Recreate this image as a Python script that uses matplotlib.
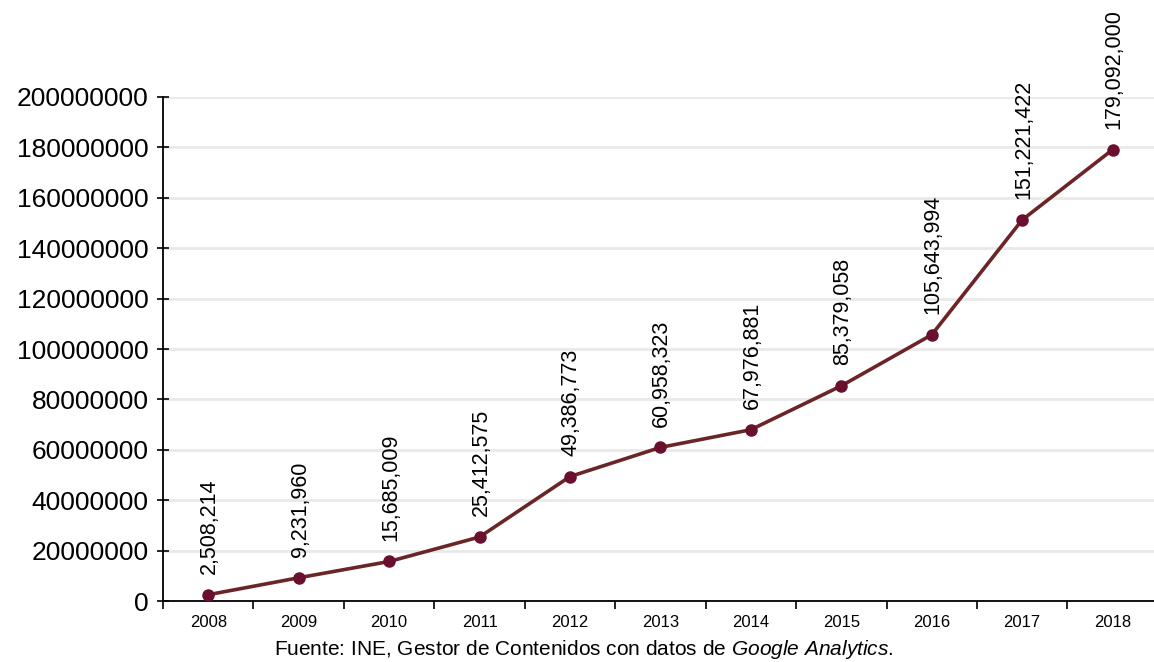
import matplotlib.pyplot as plt
import numpy as np

plt.rcParams['font.family'] = ['Liberation Sans', 'DejaVu Sans']
plt.rcParams['mathtext.fontset'] = 'custom'
plt.rcParams['mathtext.rm'] = 'Liberation Sans'
plt.rcParams['mathtext.it'] = 'Liberation Sans:italic'

# data
years = ['2008', '2009', '2010', '2011', '2012', '2013', '2014', '2015', '2016', '2017', '2018']
visits = [2508214, 9231960, 15685009, 25412575, 49386773, 60958323,
          67976881, 85379058, 105643994, 151221422, 179092000]

fig = plt.figure(figsize=(11.54, 6.62), dpi=100)
ax = fig.add_axes([0.1413, 0.0921, 0.862, 0.7614])

x = np.arange(len(years))
ax.plot(x, visits, color='#6B2527', lw=2.6, marker='o', ms=8,
        mfc='#6A0F2E', mec='#6A0F2E', zorder=3, clip_on=False)

for xi, v in zip(x, visits):
    ax.annotate(f'{v:,}', (xi, v), xytext=(1, 15), textcoords='offset points',
                rotation=90, ha='center', va='bottom', fontsize=15.5,
                annotation_clip=False)

ax.set_xlim(-0.5, len(years) - 0.5)
ax.set_ylim(0, 200000000)
ax.set_yticks(np.arange(0, 200000001, 20000000))
ax.set_yticklabels([str(t) for t in range(0, 200000001, 20000000)], fontsize=19)
ax.yaxis.grid(True, color='#E9E9E9', lw=2)
ax.set_axisbelow(True)
ax.tick_params(axis='y', direction='inout', length=9, width=1.2, pad=6)

# category axis: labels at centers, ticks at boundaries
ax.set_xticks(x)
ax.set_xticklabels(years, fontsize=12)
ax.tick_params(axis='x', which='major', length=0, pad=10)
ax.set_xticks(np.arange(-0.5, len(years)), minor=True)
ax.tick_params(axis='x', which='minor', direction='out', length=6, width=1.2)

for s in ['top', 'right']:
    ax.spines[s].set_visible(False)
for s in ['left', 'bottom']:
    ax.spines[s].set_linewidth(1.3)

fig.text(0.506, 0.0196, 'Fuente: INE, Gestor de Contenidos con datos de $\\it{Google\\ Analytics}$.',
         ha='center', va='center', fontsize=15)

fig.savefig('out.png', dpi=100)
